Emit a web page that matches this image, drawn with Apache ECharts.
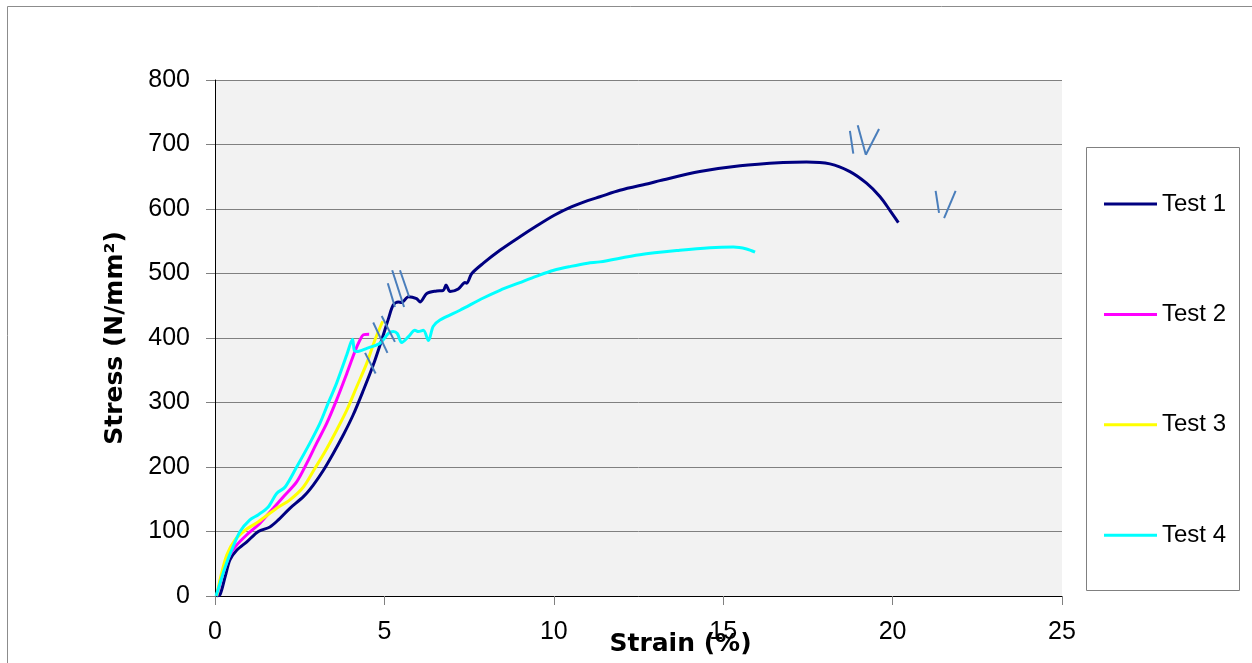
<!DOCTYPE html>
<html>
<head>
<meta charset="utf-8">
<title>Stress-strain</title>
<script src="https://cdn.jsdelivr.net/npm/echarts@6/dist/echarts.min.js"></script>
<style>
  html, body { margin: 0; padding: 0; background: #fff; }
  #chart { width: 1252px; height: 663px; }
</style>
</head>
<body>
<div id="chart"></div>
<script>
// axis ticks
const strainTicks = [0, 5, 10, 15, 20, 25]
const stressTicks = [0, 100, 200, 300, 400, 500, 600, 700, 800]

// Test 1
const test1Strain = [0.05, 0.15, 0.3, 0.44, 0.64, 0.94, 1.28, 1.62, 1.87, 2.21, 2.61, 2.9, 3.2, 3.49, 3.79, 4.08, 4.38, 4.67, 4.92, 5.12, 5.26, 5.41, 5.51, 5.71, 5.95, 6.05, 6.25, 6.54, 6.74, 6.82, 6.94, 7.18, 7.38, 7.43, 7.58, 7.92, 8.41, 9, 9.5, 10, 10.5, 11, 11.36, 11.95, 12.84, 13.13, 14.31, 15.5, 16.77, 17.46, 18.15, 18.74, 19.23, 19.63, 19.92, 20.17]
const test1Stress = [0, 2, 30, 56, 71, 84, 100, 107, 118, 136, 154, 172, 195, 221, 250, 281, 319, 358, 397, 430, 451, 456, 455, 464, 461, 456, 469, 473, 474, 482, 472, 476, 486, 485, 500, 516, 536, 557, 574, 590, 603, 613, 619, 629, 640, 644, 658, 667, 672, 673, 670, 658, 640, 619, 598, 579]

// Test 2
const test2Strain = [0.05, 0.15, 0.3, 0.44, 0.64, 0.94, 1.33, 1.72, 2.02, 2.41, 2.71, 3.0, 3.3, 3.59, 3.89, 4.13, 4.28, 4.38, 4.55]
const test2Stress = [0, 20, 45, 64, 79, 95, 113, 136, 154, 177, 206, 237, 268, 304, 345, 379, 397, 405, 406]

// Test 3
const test3Strain = [0.05, 0.17, 0.35, 0.59, 0.89, 1.28, 1.82, 2.21, 2.61, 2.95, 3.25, 3.59, 3.89, 4.18, 4.48, 4.72, 4.95]
const test3Stress = [0, 30, 64, 87, 102, 115, 136, 149, 169, 198, 224, 257, 288, 324, 361, 397, 426]

// Test 4
const test4Strain = [0.03, 0.15, 0.3, 0.49, 0.74, 1.03, 1.28, 1.57, 1.82, 2.07, 2.41, 2.8, 3.1, 3.34, 3.59, 3.89, 4.06, 4.11, 4.18, 4.48, 4.87, 5.12, 5.26, 5.38, 5.51, 5.71, 5.9, 6.0, 6.15, 6.3, 6.44, 6.64, 7.23, 7.92, 8.41, 9, 9.5, 10, 10.5, 11, 11.36, 12.54, 13.72, 14.61, 15.3, 15.69, 15.94]
const test4Stress = [0, 20, 45, 71, 100, 118, 126, 138, 159, 169, 200, 237, 268, 299, 330, 374, 398, 381, 379, 384, 392, 407, 410, 407, 393, 402, 412, 410, 412, 396, 418, 428, 443, 462, 474, 486, 496, 505, 511, 516, 518, 529, 536, 540, 541, 538, 533]

// hand-drawn break marks: [x1, y1, x2, y2] in strain / stress units
const breakMarks = [
  [4.67, 424, 5.09, 377], [4.92, 434, 5.31, 394], [4.43, 377, 4.74, 345],
  [5.10, 485, 5.31, 448], [5.23, 505, 5.58, 448], [5.46, 505, 5.73, 464],
  [18.74, 721, 18.84, 686], [18.97, 730, 19.21, 684], [19.21, 684, 19.60, 724],
  [21.27, 628, 21.37, 594], [21.86, 628, 21.52, 586]
]

const pairs = (xs, ys) => xs.map((x, i) => [x, ys[i]])

const font = 'Liberation Sans'
const chart = echarts.init(document.getElementById('chart'))

const lineSeries = (name, xs, ys, color) => ({
  name,
  type: 'line',
  data: pairs(xs, ys),
  symbol: 'none',
  smooth: 0.3,
  lineStyle: { color, width: 3 },
  itemStyle: { color },
  z: 3
})

chart.setOption({
  animation: false,
  textStyle: { fontFamily: font },
  grid: {
    left: 215, right: 190, top: 80, bottom: 67,
    outerBoundsMode: 'none', containLabel: false,
    show: true, backgroundColor: '#f2f2f2', borderWidth: 0
  },
  graphic: [
    { type: 'rect', shape: { x: 7.5, y: 6.5, width: 1300, height: 700 },
      style: { fill: 'none', stroke: '#8c8c8c', lineWidth: 1 }, z: -1 },
    { type: 'rect', shape: { x: 1086.5, y: 147.5, width: 153, height: 443 },
      style: { fill: '#fff', stroke: '#808080', lineWidth: 1 }, z: 0 }
  ],
  legend: {
    data: ['Test 1', 'Test 2', 'Test 3', 'Test 4'],
    orient: 'vertical',
    left: 1099, top: 187,
    icon: 'rect',
    itemWidth: 53, itemHeight: 3,
    itemGap: 86.4,
    textStyle: { fontFamily: font, fontSize: 24, color: '#000' },
    z: 5
  },
  xAxis: {
    type: 'value',
    min: strainTicks[0], max: strainTicks[strainTicks.length - 1], interval: 5,
    name: 'Strain (%)',
    nameLocation: 'middle', nameGap: 36, nameMoveOverlap: false,
    nameTextStyle: { fontFamily: 'DejaVu Sans', fontWeight: 'bold', fontSize: 25, color: '#000', padding: [0, 0, 0, 84] },
    axisLine: { onZero: false, lineStyle: { color: '#000', width: 1 } },
    axisTick: { show: true, length: 9, lineStyle: { color: '#808080' } },
    axisLabel: { fontSize: 25, color: '#000', margin: 24 },
    splitLine: { show: false }
  },
  yAxis: {
    type: 'value',
    min: stressTicks[0], max: stressTicks[stressTicks.length - 1], interval: 100,
    name: 'Stress (N/mm²)',
    nameLocation: 'middle', nameGap: 87, nameMoveOverlap: false,
    nameTextStyle: { fontFamily: 'DejaVu Sans', fontWeight: 'bold', fontSize: 25, color: '#000' },
    axisLine: { show: true, lineStyle: { color: '#000', width: 1 } },
    axisTick: { show: true, length: 9, lineStyle: { color: '#808080' } },
    axisLabel: { fontSize: 25, color: '#000', margin: 25 },
    splitLine: { show: true, lineStyle: { color: '#808080', width: 1 } }
  },
  series: [
    lineSeries('Test 1', test1Strain, test1Stress, '#000080'),
    lineSeries('Test 2', test2Strain, test2Stress, '#ff00ff'),
    lineSeries('Test 3', test3Strain, test3Stress, '#ffff00'),
    lineSeries('Test 4', test4Strain, test4Stress, '#00ffff'),
    {
      name: 'breaks',
      type: 'lines',
      coordinateSystem: 'cartesian2d',
      data: breakMarks.map(m => ({ coords: [[m[0], m[1]], [m[2], m[3]]] })),
      lineStyle: { color: '#4a7ebb', width: 2, opacity: 1 },
      z: 4
    }
  ]
})
</script>
</body>
</html>
